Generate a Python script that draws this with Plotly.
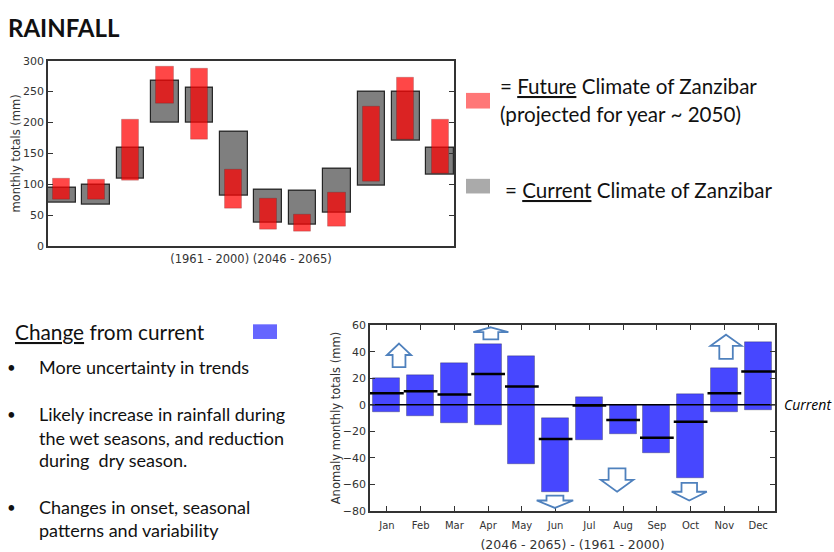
import plotly.graph_objects as go

# ---------------- data ----------------
months = ["Jan", "Feb", "Mar", "Apr", "May", "Jun",
          "Jul", "Aug", "Sep", "Oct", "Nov", "Dec"]

# monthly totals (mm): current climate 1961-2000 range
current_low = [70, 67, 110, 200, 200, 81, 38, 35, 55, 98, 170, 115]
current_high = [95, 100, 159, 268, 256, 185, 92, 89, 126, 250, 250, 159]

# monthly totals (mm): projected 2046-2065 range
future_low = [76, 76, 106, 230, 172, 60, 27, 24, 31, 105, 172, 117]
future_high = [110, 108, 204, 290, 287, 124, 77, 51, 87, 226, 272, 204]

# anomaly (future - current), mm
anom_low = [-5.3, -8.8, -13.7, -15.7, -45.2, -66, -26.5, -22.3, -36.9, -55.6, -5.3, -4.3]
anom_high = [19.8, 22.3, 31.7, 45.7, 36.8, -9.8, 5.5, -0.4, -0.4, 7.7, 27.5, 47]
anom_median = [8.7, 10.2, 7.7, 23.3, 13.9, -25.8, -0.6, -11.5, -24.8, -12.7, 8.7, 25.2]

top_yticks = [0, 50, 100, 150, 200, 250, 300]
bottom_yticks = [-80, -60, -40, -20, 0, 20, 40, 60]

# ---------------- layout helpers ----------------
W, H = 834, 552


def px(x):
    return x / W


def py(y):
    return 1 - y / H


xc = [i + 0.5 for i in range(12)]

fig = go.Figure()

# current climate range (grey)
fig.add_trace(go.Bar(
    x=xc, y=[h - l for l, h in zip(current_low, current_high)], base=current_low,
    width=0.8, marker=dict(color="rgba(0,0,0,0.5)",
                           line=dict(color="rgba(0,0,0,0.8)", width=1.2)),
    xaxis="x", yaxis="y", showlegend=False, hoverinfo="skip"))

# future climate range (red)
fig.add_trace(go.Bar(
    x=xc, y=[h - l for l, h in zip(future_low, future_high)], base=future_low,
    width=0.5, marker=dict(color="rgba(255,0,0,0.72)",
                           line=dict(color="rgba(0,0,0,0.15)", width=1)),
    xaxis="x", yaxis="y", showlegend=False, hoverinfo="skip"))

# anomaly range (blue)
fig.add_trace(go.Bar(
    x=xc, y=[h - l for l, h in zip(anom_low, anom_high)], base=anom_low,
    width=0.8, marker=dict(color="rgba(0,0,255,0.72)",
                           line=dict(color="rgba(0,0,0,0.25)", width=1)),
    xaxis="x2", yaxis="y2", showlegend=False, hoverinfo="skip"))

# median anomaly markers
mx, my = [], []
for i, m in enumerate(anom_median):
    mx += [i, i + 1, None]
    my += [m, m, None]
fig.add_trace(go.Scatter(x=mx, y=my, mode="lines",
                         line=dict(color="black", width=2.5),
                         xaxis="x2", yaxis="y2", showlegend=False, hoverinfo="skip"))

# zero line
fig.add_trace(go.Scatter(x=[0, 12], y=[0, 0], mode="lines",
                         line=dict(color="black", width=1.5),
                         xaxis="x2", yaxis="y2", showlegend=False, hoverinfo="skip"))

# hollow trend arrows: (centre x, head half-width, shaft half-width, tip, head base, tail)
arrows_up = [
    (0.86, 0.36, 0.19, 46.2, 37.6, 28.5),
    (3.58, 0.52, 0.22, 58.5, 54.8, 49.4),
    (10.55, 0.46, 0.20, 52.9, 44.5, 34.6),
]
arrows_down = [
    (5.48, 0.54, 0.25, -77.8, -72.2, -68.5),
    (7.32, 0.48, 0.25, -65.6, -56.7, -47.9),
    (9.46, 0.52, 0.23, -72.2, -65.6, -58.9),
]
shapes = []
for cx, hw, sw, tip, base, tail in arrows_up + arrows_down:
    path = (f"M {cx},{tip} L {cx + hw},{base} L {cx + sw},{base} L {cx + sw},{tail} "
            f"L {cx - sw},{tail} L {cx - sw},{base} L {cx - hw},{base} Z")
    shapes.append(dict(type="path", path=path, xref="x2", yref="y2",
                       line=dict(color="#4f81bd", width=1.8),
                       fillcolor="white", layer="above"))

# legend swatches
shapes.append(dict(type="rect", xref="paper", yref="paper",
                   x0=px(466), x1=px(490), y0=py(105), y1=py(89),
                   fillcolor="#ff7777", line=dict(width=0)))
shapes.append(dict(type="rect", xref="paper", yref="paper",
                   x0=px(466), x1=px(490), y0=py(192), y1=py(177),
                   fillcolor="#aaaaaa", line=dict(width=0)))
shapes.append(dict(type="rect", xref="paper", yref="paper",
                   x0=px(253), x1=px(277), y0=py(341), y1=py(326),
                   fillcolor="#6666ff", line=dict(width=0)))

TEXT_FONT = "Lato, Carlito, sans-serif"
TXT = "#111111"


def label(x, y, text, size=19, xanchor="left", **kw):
    return dict(x=px(x), y=py(y), xref="paper", yref="paper", text=text,
                showarrow=False, xanchor=xanchor, yanchor="middle",
                font=dict(family=TEXT_FONT, size=size, color=TXT), **kw)


annotations = [
    label(6, 22, "<b>RAINFALL</b>", size=24),
    label(498, 82, "= <u>Future</u> Climate of Zanzibar", size=20.6),
    label(498, 111, "(projected for year ~ 2050)", size=20.6),
    label(503, 188, "= <u>Current</u> Climate of Zanzibar", size=20.6),
    label(13, 333, "<u>Change</u> from current", size=20.8),
    label(5, 370, "•", size=15),
    label(37, 370, "More uncertainty in trends", size=18),
    label(5, 418, "•", size=15),
    label(37, 418, "Likely increase in rainfall during", size=18),
    label(37, 442, "the wet seasons, and reduction", size=18),
    label(37, 465, "during  dry season.", size=18),
    label(5, 513, "•", size=15),
    label(37, 513, "Changes in onset, seasonal", size=18),
    label(37, 537, "patterns and variability", size=18),
    dict(x=px(782), y=py(408), xref="paper", yref="paper", text="<i>Current</i>",
         showarrow=False, xanchor="left", yanchor="middle",
         font=dict(family="Open Sans, sans-serif", size=14, color="black")),
]

AX_FONT = dict(family="DejaVu Sans", size=11.5, color="#333333")
axis_common = dict(showline=True, mirror="ticks", linecolor="#333333", linewidth=1.5,
                   ticks="inside", ticklen=5, tickcolor="#333333",
                   showgrid=False, zeroline=False, tickfont=dict(AX_FONT, size=11))

fig.update_layout(
    width=W, height=H, margin=dict(l=0, r=0, t=0, b=0),
    paper_bgcolor="white", plot_bgcolor="white",
    barmode="overlay", bargap=0,
    shapes=shapes, annotations=annotations,
    xaxis=dict(domain=[px(48), px(454)], range=[0.1, 11.9], anchor="y",
               showticklabels=False, title=dict(text="(1961 - 2000) (2046 - 2065)",
                                                font=AX_FONT, standoff=8),
               **{**axis_common, "ticks": ""}),
    yaxis=dict(domain=[py(246), py(56)], range=[0, 300], anchor="x",
               tickvals=top_yticks, title=dict(text="monthly totals (mm)", font=AX_FONT,
                                               standoff=0),
               **axis_common),
    xaxis2=dict(domain=[px(370), px(775)], range=[0, 12], anchor="y2",
                tickvals=xc, ticktext=months, ticklabelstandoff=4,
                title=dict(text="(2046 - 2065) - (1961 - 2000)", font=dict(AX_FONT, size=12.5),
                           standoff=11),
                **{**axis_common, "tickfont": dict(AX_FONT, size=10)}),
    yaxis2=dict(domain=[py(517), py(327)], range=[-80, 60], anchor="x2",
                tickvals=bottom_yticks,
                title=dict(text="Anomaly monthly totals (mm)", font=AX_FONT, standoff=0),
                **axis_common),
)

fig.write_html("out.html")
